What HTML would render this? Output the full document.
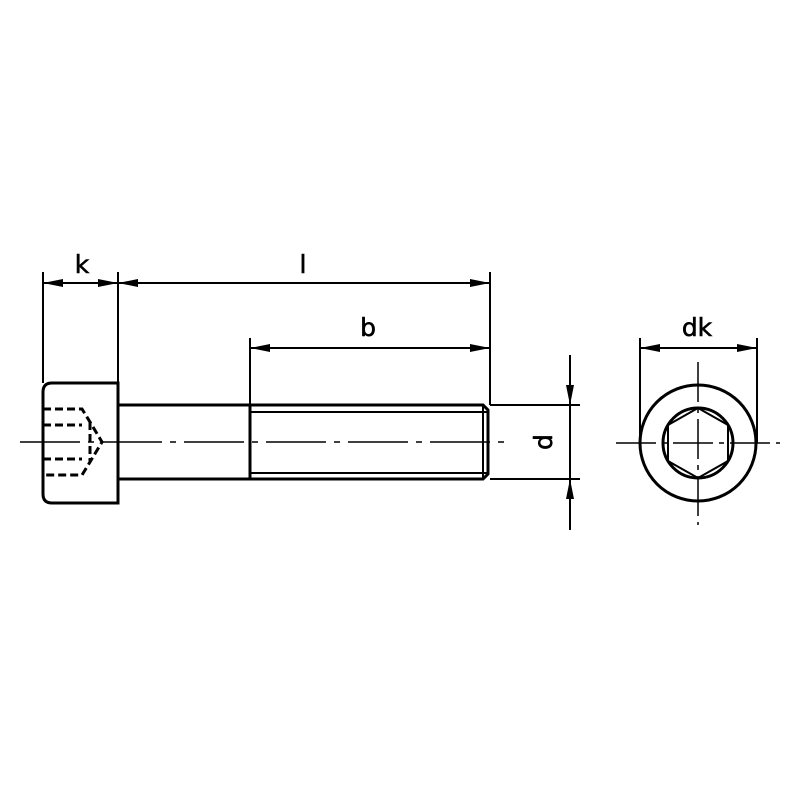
<!DOCTYPE html>
<html><head><style>body{margin:0;background:#fff}svg{display:block}</style></head><body>
<svg width="800" height="800" viewBox="0 0 800 800" xmlns="http://www.w3.org/2000/svg">
<defs>
<marker id="a" viewBox="0 0 20 8" refX="20" refY="4" markerWidth="20" markerHeight="8" markerUnits="userSpaceOnUse" orient="auto-start-reverse"><path d="M0,0 L20,4 L0,8 Z" fill="#000"/></marker>
</defs>
<g stroke="#000" fill="none" stroke-width="3">
<path d="M118,383 H52 Q43,383 43,392 V494 Q43,503 52,503 H118 Z"/>
<path d="M118,405 H483 L488,410 V474 L483,479 H118"/>
<line x1="250" y1="405" x2="250" y2="479"/>
<line x1="250" y1="412" x2="488" y2="412" stroke-width="2"/>
<line x1="250" y1="473" x2="488" y2="473" stroke-width="2"/>
<line x1="483" y1="405" x2="483" y2="479" stroke-width="2"/>
<g stroke-dasharray="8,4" stroke-width="3">
<path d="M43,409 H82 L90,422 L102,442 L90,462 L82,475 H43"/>
<path d="M43,425 H82 M43,459 H82"/>
<path d="M90,422 V462"/>
</g>
</g>
<g stroke="#000" stroke-width="1.5" fill="none">
<line x1="20" y1="442" x2="510" y2="442" stroke-dasharray="60,8,6,8"/>
<line x1="616" y1="443" x2="780" y2="443" stroke-dasharray="40,6,5,6"/>
<line x1="698" y1="362" x2="698" y2="525" stroke-dasharray="40,6,5,6"/>
</g>
<g stroke="#000" stroke-width="2" fill="none">
<line x1="43" y1="272" x2="43" y2="383"/>
<line x1="118" y1="272" x2="118" y2="383"/>
<line x1="490" y1="272" x2="490" y2="405"/>
<line x1="250" y1="338" x2="250" y2="405"/>
<line x1="43" y1="283" x2="118" y2="283" marker-start="url(#a)" marker-end="url(#a)"/>
<line x1="118" y1="283" x2="490" y2="283" marker-start="url(#a)" marker-end="url(#a)"/>
<line x1="250" y1="348" x2="490" y2="348" marker-start="url(#a)" marker-end="url(#a)"/>
<line x1="490" y1="405" x2="580" y2="405"/>
<line x1="490" y1="479" x2="580" y2="479"/>
<line x1="570" y1="355" x2="570" y2="405" marker-end="url(#a)"/>
<line x1="570" y1="405" x2="570" y2="479"/>
<line x1="570" y1="530" x2="570" y2="479" marker-end="url(#a)"/>
<line x1="640" y1="338" x2="640" y2="443"/>
<line x1="757" y1="338" x2="757" y2="443"/>
<line x1="640" y1="348" x2="757" y2="348" marker-start="url(#a)" marker-end="url(#a)"/>
</g>
<g stroke="#000" stroke-width="3" fill="none">
<circle cx="698" cy="443" r="58"/>
<circle cx="698" cy="443" r="35"/>
<polygon points="698,408 728,425 728,461 698,478 668,461 668,425" stroke-width="2"/>
</g>
<g font-family="'DejaVu Sans','Liberation Sans',sans-serif" font-size="25" fill="#000" text-anchor="middle" stroke="#000" stroke-width="0.6">
<text x="82" y="273">k</text>
<text x="303" y="273">l</text>
<text x="368" y="336">b</text>
<text x="697" y="336">dk</text>
<text x="0" y="0" transform="translate(545,442) rotate(-90)" dominant-baseline="middle">d</text>
</g>
</svg>
</body></html>
